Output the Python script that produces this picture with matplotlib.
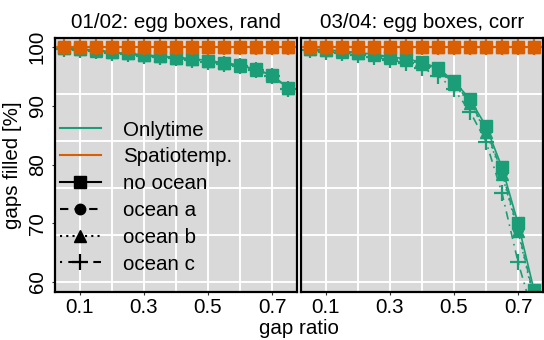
import numpy as np
import matplotlib
matplotlib.use('Agg')
import matplotlib.pyplot as plt
from matplotlib.lines import Line2D

plt.rcParams['font.family'] = ['Liberation Sans', 'DejaVu Sans']

# gap ratio (x) shared by both panels
gap_ratio = [0.05, 0.10, 0.15, 0.20, 0.25, 0.30, 0.35, 0.40,
             0.45, 0.50, 0.55, 0.60, 0.65, 0.70, 0.75]

oceans = ['no ocean', 'ocean a', 'ocean b', 'ocean c']

# 01/02: egg boxes, rand  -- Onlytime
rand_onlytime = {
    'no ocean': [99.8, 99.6, 99.5, 99.1, 98.9, 98.6, 98.5, 98.2, 98.0, 97.7, 97.3, 96.9, 96.2, 95.2, 93.1],
    'ocean a':  [99.8, 99.6, 99.4, 99.1, 98.9, 98.6, 98.4, 98.2, 97.9, 97.6, 97.3, 96.8, 96.1, 95.2, 93.0],
    'ocean b':  [99.8, 99.6, 99.4, 99.1, 98.9, 98.6, 98.4, 98.1, 97.9, 97.6, 97.2, 96.8, 96.1, 95.1, 93.0],
    'ocean c':  [99.7, 99.5, 99.4, 99.0, 98.8, 98.5, 98.3, 98.1, 97.8, 97.5, 97.1, 96.7, 96.0, 95.0, 92.9],
}
# 03/04: egg boxes, corr  -- Onlytime
corr_onlytime = {
    'no ocean': [99.7, 99.5, 99.3, 99.0, 98.8, 98.3, 98.0, 97.4, 96.4, 94.2, 91.1, 86.5, 79.5, 70.0, 58.6],
    'ocean a':  [99.7, 99.5, 99.3, 99.0, 98.7, 98.2, 97.9, 97.2, 96.1, 93.9, 90.6, 85.9, 78.7, 69.0, 57.4],
    'ocean b':  [99.7, 99.5, 99.2, 98.9, 98.7, 98.2, 97.8, 97.1, 96.0, 93.7, 90.4, 85.6, 78.3, 68.6, 57.0],
    'ocean c':  [99.5, 99.2, 98.9, 98.6, 98.3, 97.8, 97.3, 96.4, 95.1, 92.8, 89.0, 83.9, 75.1, 63.4, 54.0],
}
# Spatiotemp. fills everything in both panels
spatio = [100.0] * 15

titles = ['01/02: egg boxes, rand', '03/04: egg boxes, corr']

green = '#1b9e77'
orange = '#d95f02'
style = {
    'no ocean': dict(ls='-', marker='s', ms=8),
    'ocean a': dict(ls=(0, (4, 3)), marker='o', ms=7.5),
    'ocean b': dict(ls=(0, (1, 2)), marker='^', ms=8),
    'ocean c': dict(ls=(0, (1, 3, 5, 3)), marker='+', ms=12, mew=1.6),
}

fs = 14.8
fig = plt.figure(figsize=(5.44, 3.4), dpi=100)
ax1 = fig.add_axes([55/544, 48/340, 242/544, 254/340])
ax2 = fig.add_axes([301/544, 48/340, 242/544, 254/340])

for ax, only, title in zip([ax1, ax2], [rand_onlytime, corr_onlytime], titles):
    ax.set_facecolor('#d9d9d9')
    for gx in [0.1, 0.2, 0.3, 0.4, 0.5, 0.6, 0.7]:
        ax.axvline(gx, color='white', lw=1.4, zorder=0)
    for gy in [60, 68, 76, 84, 92, 100]:
        ax.axhline(gy, color='white', lw=1.4, zorder=0)
    for oc in oceans:
        ax.plot(gap_ratio, only[oc], color=green, lw=1.2, zorder=2, **style[oc])
    for oc in oceans:
        ax.plot(gap_ratio, spatio, color=orange, lw=1.2, zorder=3, **style[oc])
    ax.set_xlim(0.022, 0.778)
    ax.set_ylim(58.3, 101.53)
    ax.set_xticks([0.1, 0.3, 0.5, 0.7])
    ax.set_xticklabels(['0.1', '0.3', '0.5', '0.7'], fontsize=fs)
    ax.set_yticks([60, 70, 80, 90, 100])
    ax.tick_params(length=2, width=0.8, color='#333333', pad=2)
    for s in ax.spines.values():
        s.set_linewidth(1.6)
        s.set_color('black')
    ax.set_title(title, fontsize=fs, pad=7)

ax1.set_yticklabels(['60', '70', '80', '90', '100'], fontsize=fs, rotation=90, va='center')
ax1.tick_params(axis='y', pad=4)
ax2.tick_params(axis='y', left=False, labelleft=False)
ax1.set_ylabel('gaps filled [%]', fontsize=fs, labelpad=4)
fig.text(299/544, 1 - 329/340, 'gap ratio', fontsize=fs, ha='center', va='center')

handles = [
    Line2D([], [], color=green, lw=1.5),
    Line2D([], [], color=orange, lw=1.5),
]
for oc in oceans:
    st = dict(style[oc])
    handles.append(Line2D([], [], color='black', lw=1.5, **st))
labels = ['Onlytime', 'Spatiotemp.'] + oceans
ax1.legend(handles, labels, loc='upper left', bbox_to_anchor=(0.02, 0.675),
           frameon=False, fontsize=fs, handlelength=2.0, handletextpad=1.05,
           labelspacing=0.38, borderpad=0, borderaxespad=0, numpoints=1)

fig.savefig('out.png', dpi=100)
